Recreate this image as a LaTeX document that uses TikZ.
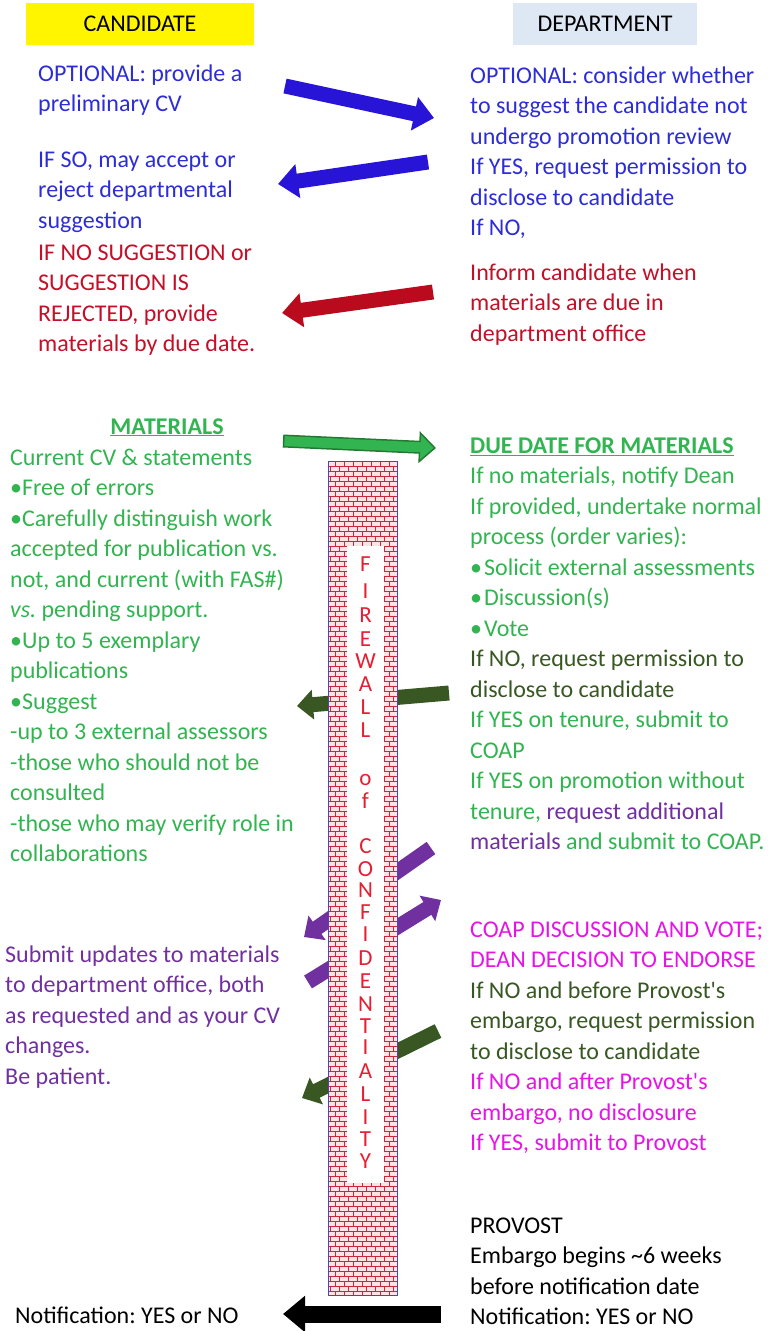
\documentclass[tikz,border=0pt]{standalone}
\usepackage{fontspec}
\setmainfont{Carlito}
\usetikzlibrary{arrows.meta}
\definecolor{txtblue}{RGB}{45,45,215}
\definecolor{arrblue}{RGB}{40,20,215}
\definecolor{txtred}{RGB}{195,15,40}
\definecolor{arrred}{RGB}{185,10,30}
\definecolor{lgreen}{RGB}{50,180,80}
\definecolor{lgreenout}{RGB}{35,120,50}
\definecolor{dgreen}{RGB}{56,87,35}
\definecolor{purp}{RGB}{112,48,160}
\definecolor{magen}{RGB}{230,20,230}
\definecolor{hdyellow}{RGB}{255,245,0}
\definecolor{hdblue}{RGB}{222,232,244}
\definecolor{brickred}{RGB}{200,40,60}
\definecolor{brickpink}{RGB}{250,226,229}
\definecolor{wallblue}{RGB}{70,70,190}
\definecolor{fwletter}{RGB}{230,30,50}
\begin{document}
\frenchspacing
\begin{tikzpicture}[x=1pt,y=-1pt,
  txt/.style={anchor=north west, inner sep=0pt, align=left, font=\fontsize{24}{30.5}\selectfont\frenchspacing},
  hdr/.style={inner sep=0pt, minimum height=42pt, font=\fontsize{24}{28}\selectfont},
  bigarrow/.style={line width=15pt, -{Triangle[length=20pt,width=33pt]}},
  midarrow/.style={line width=15pt, -{Triangle[length=16pt,width=29pt]}},
  blackarrow/.style={line width=17pt, -{Triangle[length=22pt,width=35pt]}},
  fwl/.style={anchor=base, inner sep=0pt, text=fwletter, font=\fontsize{23}{23}\selectfont}
]
\useasboundingbox (0,0) rectangle (782,1331);

% headers
\node[hdr, fill=hdyellow, minimum width=228pt] (cand) at (140,24) {CANDIDATE};
\node[hdr, fill=hdblue, minimum width=184pt] (dept) at (605,24) {DEPARTMENT};

% top texts
\node[txt, text=txtblue] (c1) at (38,59.6) {\strut OPTIONAL: provide a\\preliminary CV};
\node[txt, text=txtblue] (c2) at (38,145.6) {\strut IF SO, may accept or\\reject departmental\\suggestion};
\node[txt, text=txtred] (c3) at (38,238.6) {\strut IF NO SUGGESTION or\\SUGGESTION IS\\REJECTED, provide\\materials by due date.};
\node[txt, text=txtblue] (d1) at (470,61.6) {\strut OPTIONAL: consider whether\\to suggest the candidate not\\undergo promotion review\\If YES, request permission to\\disclose to candidate\\If NO,};
\node[txt, text=txtred] (d2) at (470,258.6) {\strut Inform candidate when\\materials are due in\\department office};

% materials
\node[anchor=base, inner sep=0pt, text=lgreen, font=\fontsize{24}{30.5}\selectfont\bfseries] (mat) at (167,434) {\underline{MATERIALS}};
\node[txt, text=lgreen] (g1) at (10,443.6) {\strut Current CV \& statements\\•Free of errors\\•Carefully distinguish work\\accepted for publication vs.\\not, and current (with FAS\#)\\\textit{vs.} pending support.\\•Up to 5 exemplary\\publications\\•Suggest\\-up to 3 external assessors\\-those who should not be\\consulted\\-those who may verify role in\\collaborations};
\node[txt, text=lgreen] (g2) at (470,431.6) {\strut\textbf{\underline{DUE DATE FOR MATERIALS}}\\If no materials, notify Dean\\If provided, undertake normal\\process (order varies):\\•\hspace{2pt}Solicit external assessments\\•\hspace{2pt}Discussion(s)\\•\hspace{2pt}Vote\\
{\color{dgreen}If NO, request permission to}\\{\color{dgreen}disclose to candidate}\\If YES on tenure, submit to\\COAP\\If YES on promotion without\\tenure, {\color{purp}request additional}\\{\color{purp}materials} and submit to COAP.};

% lower texts
\node[txt, text=purp] (p1) at (5,940.6) {\strut Submit updates to materials\\to department office, both\\as requested and as your CV\\changes.\\Be patient.};
\node[txt, text=magen] (m1) at (470,915.6) {\strut COAP DISCUSSION AND VOTE;\\DEAN DECISION TO ENDORSE\\{\color{dgreen}If NO and before Provost\textquotesingle s}\\{\color{dgreen}embargo, request permission}\\{\color{dgreen}to disclose to candidate}\\If NO and after Provost\textquotesingle s\\embargo, no disclosure\\If YES, submit to Provost};
\node[txt, text=black] (pv) at (470,1211.6) {\strut PROVOST\\Embargo begins \textasciitilde 6 weeks\\before notification date\\Notification: YES or NO};
\node[txt, text=black] (nl) at (15,1301.6) {\strut Notification: YES or NO};

% arrow end points
\coordinate (b1s) at (285,86);  \coordinate (b1e) at (434,118);
\coordinate (b2s) at (428,162); \coordinate (b2e) at (278,184);
\coordinate (r1s) at (433,292); \coordinate (r1e) at (282,313);
\coordinate (gs) at (283,441);  \coordinate (ge) at (436,448);
\coordinate (dg1s) at (449,693); \coordinate (dg1e) at (297,706);
\coordinate (p1s) at (431,848); \coordinate (p1e) at (304,937);
\coordinate (p2s) at (308,982); \coordinate (p2e) at (441,900);
\coordinate (dg2s) at (438,1031); \coordinate (dg2e) at (302,1098);
\coordinate (ks) at (441,1314); \coordinate (ke) at (283,1314);

\draw[bigarrow, arrblue] (b1s) -- (b1e);
\draw[bigarrow, arrblue] (b2s) -- (b2e);
\draw[bigarrow, arrred] (r1s) -- (r1e);
\draw[line width=13pt, lgreenout, -{Triangle[length=17pt,width=31pt]}] (gs) -- (ge);
\draw[line width=10pt, lgreen, -{Triangle[length=13.2pt,width=24pt]}, shorten >=2.3pt, shorten <=1.5pt] (gs) -- (ge);
\draw[midarrow, dgreen] (dg1s) -- (dg1e);
\draw[midarrow, purp] (p1s) -- (p1e);
\draw[midarrow, purp] (p2s) -- (p2e);
\draw[midarrow, dgreen] (dg2s) -- (dg2e);
\draw[blackarrow, black] (ks) -- (ke);

% firewall
\begin{scope}
\clip (328.5,461) rectangle (397,1295);
\fill[brickpink] (328.5,461) rectangle (397,1295);
\foreach \i in {0,...,167} {
  \pgfmathsetmacro{\yy}{461+\i*5}
  \pgfmathsetmacro{\off}{mod(\i,2)*4.5}
  \draw[brickred, line width=0.75pt] (328.5,\yy) -- (397,\yy)
    foreach \j in {0,...,8} { ({326+\off+\j*9},\yy) -- ++(0,5) };
}
\end{scope}
\fill[white] (347,546) rectangle (384,1183);
\draw[wallblue, line width=0.9pt] (328.5,461) rectangle (397,1295);

\foreach \l/\y [count=\k] in {F/571, I/598, R/622, E/646, W/668, A/691, L/714, L/737, o/785, f/808, C/853, O/876, N/897, F/919, I/941, D/965, E/988, N/1011, T/1033, I/1054, A/1078, L/1101, I/1124, T/1146, Y/1168}
  \node[fwl] (fw\k) at (365.5,\y) {\l};
\end{tikzpicture}
\end{document}
